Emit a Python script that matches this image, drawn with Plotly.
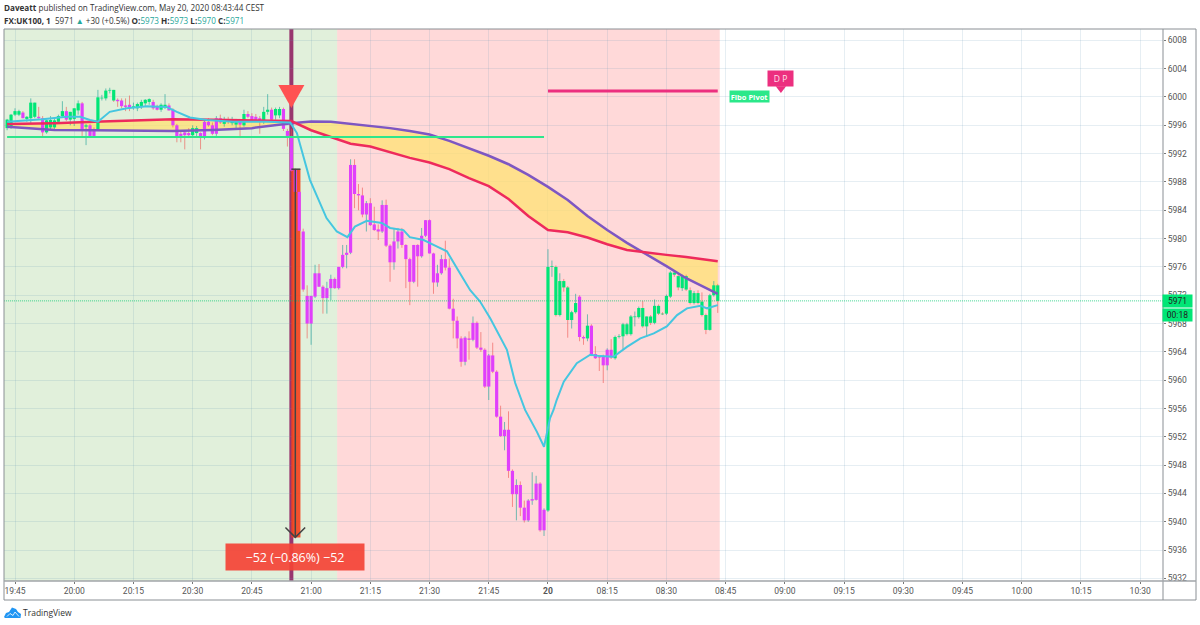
import plotly.graph_objects as go

GREEN = '#00E676'
MAGENTA = '#E040FB'
RED_MA = '#EE2A5C'
PURPLE_MA = '#7E57C2'
CYAN_MA = '#45C6E0'
PINK = '#EC2F7F'
GRID = 'rgba(100,150,180,0.16)'

# one minute bars, index 0 is 19:45, index 135 is the 08:00 open of the 20th
bar_x = list(range(-2, 179))
bar_kind = list(
    "GGGGMGGGMM" "GGGGGMGGGM" "GMMGGGGGMM" "MMGGGGGMMG" "GMMMMMMGGM"
    "MMMMMGMGGM" "GMMMMGGMGG" "MMMMM"
    + "M" * 62
    + "GGGGGGGG" "MM" "G" "MMMMMM"
    + "G" * 27
)

open_ = [
    5995.6, 5995.7, 5997.5, 5997.5, 5997.8, 5996.9, 5997.0, 5997.2, 5997.2, 5997.0,
    5995.0, 5995.7, 5995.7, 5996.5, 5997.3, 5998.0, 5996.8, 5996.9, 5998.1, 5999.1,
    5995.8, 5996.0, 5995.4, 5995.4, 5999.8, 5999.8, 6000.9, 6001.0, 5999.6, 5999.5,
    5998.8, 5998.9, 5998.6, 5998.4, 5998.7, 5999.1, 5999.3, 5999.3, 5998.7, 5998.2,
    5998.7, 5998.8, 5998.2, 5996.0, 5994.8, 5995.0, 5994.9, 5994.6, 5994.9, 5994.9,
    5994.2, 5996.5, 5996.0, 5994.8, 5997.0, 5996.2, 5996.7, 5996.3, 5996.1, 5996.5,
    5996.0, 5997.6, 5997.3, 5997.2, 5997.0, 5996.5, 5997.9, 5998.2, 5997.4, 5997.4,
    5998.3, 5995.2, 5994.5, 5989.7, 5986.6, 5981.0, 5971.9, 5968.0, 5971.8, 5975.1,
    5973.2, 5971.6, 5973.0, 5974.3, 5973.0, 5976.0, 5977.7, 5978.0, 5990.4, 5986.3,
    5986.1, 5983.4, 5985.0, 5982.0, 5981.3, 5981.0, 5984.75, 5979.0, 5976.65, 5979.6,
    5981.0, 5979.1, 5977.1, 5973.9, 5979.1, 5977.5, 5980.4, 5982.6, 5977.9, 5973.8,
    5975.1, 5977.1, 5975.9, 5970.1, 5968.4, 5965.9, 5962.6, 5965.9, 5965.7, 5968.1,
    5964.6, 5964.3, 5959.1, 5963.5, 5961.2, 5954.85, 5952.1, 5953.0, 5947.2, 5943.9,
    5945.2, 5942.0, 5940.2, 5943.0, 5943.1, 5945.4, 5938.8, 5941.6, 5976.0, 5976.0,
    5969.2, 5974.0, 5973.1, 5968.5, 5969.6, 5971.8, 5966.1, 5965.9, 5967.7, 5963.7,
    5963.3, 5963.4, 5962.1, 5964.3, 5963.1, 5966.1, 5966.2, 5966.5, 5966.5, 5968.9,
    5968.9, 5970.2, 5967.6, 5969.0, 5968.1, 5970.5, 5969.4, 5969.4, 5971.8, 5975.2,
    5974.7, 5973.0, 5974.7, 5972.7, 5970.9, 5972.3, 5971.1, 5969.2, 5967.1, 5972.0,
    5973.4,
]
high = [
    5996.9, 5997.6, 5998.4, 5998.2, 5998.0, 5997.3, 5999.8, 5999.2, 5998.6, 5997.3,
    5996.8, 5997.3, 5996.9, 5997.5, 5999.4, 5998.6, 5997.9, 5998.4, 5999.5, 5999.3,
    5996.2, 5996.2, 5995.7, 6001.0, 6000.3, 6001.2, 6001.3, 6001.0, 5999.8, 5999.8,
    5999.8, 6000.2, 5999.2, 5999.2, 5999.6, 5999.7, 5999.8, 5999.6, 5998.9, 5999.1,
    6000.4, 5999.1, 5998.4, 5996.2, 5995.1, 5995.3, 5995.6, 5996.0, 5995.9, 5995.0,
    5996.7, 5997.0, 5996.4, 5997.3, 5997.5, 5997.2, 5997.2, 5997.2, 5996.9, 5996.9,
    5998.2, 5998.0, 5997.7, 5997.6, 5997.3, 5998.6, 6000.4, 5998.5, 5998.5, 5998.6,
    5998.5, 5995.5, 5995.5, 5989.9, 5986.8, 5981.4, 5973.4, 5971.9, 5976.3, 5976.4,
    5973.4, 5973.9, 5974.9, 5974.5, 5976.0, 5979.1, 5979.1, 5991.2, 5991.2, 5987.7,
    5987.2, 5985.3, 5985.7, 5984.5, 5982.0, 5985.4, 5985.5, 5979.2, 5981.5, 5981.5,
    5981.5, 5979.2, 5977.3, 5979.1, 5979.2, 5981.5, 5982.6, 5982.7, 5978.0, 5976.3,
    5977.7, 5979.7, 5977.2, 5971.5, 5969.0, 5966.2, 5966.2, 5966.9, 5969.0, 5968.3,
    5966.8, 5964.5, 5963.7, 5965.3, 5961.4, 5956.4, 5954.1, 5955.6, 5947.4, 5946.0,
    5945.7, 5943.0, 5943.2, 5947.0, 5946.5, 5945.6, 5941.9, 5978.5, 5976.9, 5976.2,
    5975.1, 5974.3, 5973.3, 5969.8, 5972.2, 5972.0, 5966.3, 5969.3, 5967.9, 5964.8,
    5963.5, 5963.6, 5964.5, 5965.8, 5966.3, 5966.5, 5968.1, 5968.1, 5969.2, 5969.7,
    5970.4, 5971.2, 5969.0, 5969.2, 5971.4, 5970.7, 5969.6, 5972.1, 5975.4, 5975.4,
    5975.0, 5974.9, 5974.9, 5973.1, 5972.6, 5972.7, 5972.4, 5969.4, 5972.2, 5974.0,
    5973.6,
]
low = [
    5995.3, 5995.5, 5997.3, 5997.3, 5997.0, 5996.5, 5996.2, 5997.0, 5996.9, 5994.4,
    5994.8, 5995.4, 5995.5, 5996.3, 5997.1, 5996.6, 5996.0, 5995.9, 5997.5, 5994.5,
    5993.2, 5994.4, 5994.4, 5995.2, 5999.5, 5999.5, 6000.5, 5999.3, 5998.6, 5998.4,
    5998.0, 5998.0, 5998.2, 5998.0, 5998.3, 5998.6, 5998.9, 5998.2, 5998.1, 5997.9,
    5998.3, 5998.1, 5995.7, 5993.6, 5993.6, 5992.6, 5994.2, 5994.4, 5994.4, 5992.6,
    5994.0, 5995.8, 5994.6, 5994.5, 5996.2, 5995.8, 5996.2, 5996.0, 5995.6, 5994.2,
    5995.8, 5997.0, 5996.6, 5996.5, 5994.8, 5996.2, 5997.5, 5996.6, 5996.8, 5997.0,
    5995.2, 5993.0, 5989.4, 5986.5, 5981.0, 5972.5, 5965.9, 5965.0, 5971.6, 5973.2,
    5969.4, 5969.4, 5971.3, 5972.9, 5972.8, 5975.8, 5975.8, 5977.8, 5984.3, 5984.0,
    5983.0, 5981.0, 5981.8, 5981.1, 5979.8, 5980.8, 5978.8, 5973.9, 5975.6, 5978.6,
    5978.7, 5973.0, 5970.6, 5973.7, 5973.2, 5977.3, 5980.2, 5977.9, 5972.2, 5973.2,
    5974.9, 5975.5, 5970.0, 5965.9, 5964.5, 5961.9, 5962.1, 5962.9, 5965.5, 5964.4,
    5964.0, 5958.9, 5957.2, 5961.0, 5954.7, 5952.0, 5950.1, 5946.2, 5942.1, 5940.2,
    5940.8, 5939.9, 5940.0, 5942.4, 5943.0, 5938.6, 5938.0, 5941.4, 5974.6, 5969.0,
    5969.0, 5972.5, 5966.0, 5967.3, 5969.4, 5965.5, 5965.0, 5965.5, 5963.4, 5963.0,
    5961.3, 5959.6, 5961.4, 5963.0, 5962.9, 5965.9, 5964.3, 5966.3, 5966.3, 5967.6,
    5968.7, 5967.4, 5966.1, 5967.8, 5967.9, 5969.2, 5969.2, 5969.2, 5971.6, 5974.6,
    5972.7, 5972.6, 5972.6, 5970.7, 5970.7, 5970.7, 5969.0, 5966.5, 5967.0, 5971.8,
    5969.5,
]
close = [
    5996.8, 5997.5, 5998.0, 5998.0, 5997.0, 5997.2, 5999.2, 5999.2, 5997.0, 5995.0,
    5996.7, 5996.75, 5996.7, 5997.3, 5998.0, 5996.8, 5997.9, 5998.4, 5999.1, 5995.4,
    5996.0, 5994.5, 5994.5, 5999.95, 5999.9, 6000.9, 6001.0, 5999.5, 5999.4, 5998.7,
    5998.6, 5998.5, 5998.7, 5999.0, 5999.3, 5999.6, 5999.7, 5998.4, 5998.2, 5998.9,
    5998.9, 5998.1, 5996.0, 5994.4, 5994.5, 5994.6, 5994.6, 5995.6, 5995.6, 5994.2,
    5996.5, 5996.0, 5994.8, 5997.0, 5996.4, 5996.8, 5996.5, 5996.8, 5996.5, 5996.1,
    5997.6, 5997.2, 5996.8, 5996.8, 5996.5, 5997.9, 5998.2, 5996.8, 5998.3, 5998.3,
    5995.5, 5994.5, 5989.6, 5986.6, 5981.1, 5972.8, 5968.0, 5971.9, 5975.1, 5973.2,
    5971.6, 5973.0, 5974.3, 5973.0, 5976.0, 5977.7, 5978.0, 5990.4, 5986.3, 5986.1,
    5983.4, 5985.0, 5981.9, 5981.2, 5981.0, 5984.75, 5979.0, 5976.65, 5979.6, 5981.0,
    5979.1, 5977.1, 5973.9, 5979.1, 5977.5, 5980.4, 5982.6, 5977.9, 5973.8, 5975.1,
    5977.1, 5975.9, 5970.1, 5968.4, 5965.9, 5962.6, 5966.0, 5965.7, 5968.1, 5964.6,
    5964.3, 5959.1, 5963.5, 5961.2, 5954.85, 5952.1, 5953.0, 5947.2, 5943.9, 5945.2,
    5942.0, 5940.2, 5943.0, 5943.2, 5945.4, 5938.8, 5941.7, 5976.0, 5976.1, 5969.2,
    5974.0, 5973.1, 5968.5, 5969.6, 5970.9, 5966.1, 5965.9, 5967.7, 5963.6, 5963.1,
    5963.2, 5962.1, 5964.3, 5963.2, 5966.1, 5966.2, 5967.9, 5967.9, 5969.0, 5969.0,
    5970.2, 5967.6, 5969.0, 5968.1, 5970.5, 5969.4, 5969.3, 5971.9, 5975.2, 5974.9,
    5973.1, 5974.7, 5972.8, 5970.9, 5972.3, 5970.9, 5969.2, 5967.1, 5972.0, 5973.4,
    5971.2,
]

# slow averages that bound the yellow cloud
ma_x = [-2, 5, 10, 20, 30, 40, 50, 60, 70, 75, 80, 85, 90, 95, 100, 105, 110, 115, 120,
        125, 130, 135, 140, 145, 150, 155, 160, 165, 170, 175, 178]
red_ma = [5996.2, 5996.2, 5996.3, 5996.5, 5996.7, 5996.85, 5996.8, 5996.7, 5996.6, 5995.3,
          5994.35, 5993.4, 5993.0, 5992.2, 5991.4, 5990.75, 5989.8, 5988.55, 5987.4,
          5985.6, 5983.2, 5981.2, 5980.9, 5980.15, 5979.2, 5978.4, 5978.0, 5977.7,
          5977.4, 5977.05, 5976.8]
purple_ma = [5995.8, 5995.5, 5995.34, 5995.3, 5995.2, 5995.2, 5995.35, 5995.6, 5996.3,
             5996.55, 5996.5, 5996.2, 5995.95, 5995.6, 5995.2, 5994.7, 5993.8, 5992.8,
             5991.7, 5990.5, 5989.0, 5987.3, 5985.45, 5983.2, 5981.2, 5979.4, 5977.8,
             5976.1, 5974.4, 5973.0, 5972.2]

cyan_x = [-2, 7, 13, 16.5, 19, 21, 24, 28.3, 33.4, 38.4, 41, 44.3, 48.6, 55.3, 63.8, 69.7,
          71.4, 74.7, 78.9, 81.5, 84.2, 86.1, 89.1, 92.9, 95, 98.4, 100, 103.5, 106.8,
          109.4, 112.7, 115.3, 117.8, 120.4, 124.6, 126.7, 129.2, 132.2, 134, 135.5,
          136.4, 137.2, 139, 142.3, 145.7, 148.2, 151.6, 155, 158.4, 161.8, 165.1, 167.7,
          170.2, 173.6, 175.3, 178]
cyan_ma = [5996.5, 5996.85, 5997.2, 5997.2, 5996.75, 5996.5, 5997.9, 5998.4, 5998.7, 5998.6,
           5997.9, 5997.1, 5996.75, 5996.5, 5996.5, 5996.4, 5994.9, 5988.3, 5982.9, 5981.0,
           5980.2, 5981.7, 5982.5, 5982.2, 5981.5, 5981.2, 5980.2, 5979.8, 5978.9, 5978.2,
           5975.1, 5972.7, 5971.1, 5968.7, 5964.3, 5959.6, 5955.8, 5952.7, 5950.6, 5954.6,
           5955.8, 5957.2, 5959.8, 5962.4, 5963.6, 5963.4, 5963.3, 5964.7, 5965.9, 5966.6,
           5967.6, 5969.2, 5970.15, 5970.5, 5970.15, 5970.6]

pivot_green_x = [-2, 134]
pivot_green_y = [5994.35, 5994.35]
pivot_pink_x = [135, 178]
pivot_pink_y = [6000.85, 6000.85]
last_price = 5971.2
signal_bar = 70
range_top = 5989.8
range_bottom = 5937.8

y_ticks = list(range(5932, 6012, 4))
x_ticks = list(range(0, 286, 15))
x_labels = ['19:45', '20:00', '20:15', '20:30', '20:45', '21:00', '21:15', '21:30', '21:45',
            '<b>20</b>', '08:15', '08:30', '08:45', '09:00', '09:15', '09:30', '09:45',
            '10:00', '10:15', '10:30']


def segments(xs, lo, hi, keep):
    # vertical pieces split by None so that one trace can hold many candle parts
    sx, sy = [], []
    for x, a, b, k in zip(xs, lo, hi, keep):
        if k:
            sx += [x, x, None]
            sy += [a, b, None]
    return sx, sy


# plot area in page pixels, for the furniture that lives outside of the data
L, R, T, B = 4, 1163, 29, 581
def px(p):
    return (p - L) / (R - L)
def py(p):
    return (B - p) / (B - T)


fig = go.Figure()

# cloud
fig.add_trace(go.Scatter(x=ma_x, y=purple_ma, mode='lines', line=dict(width=0)))
fig.add_trace(go.Scatter(x=ma_x, y=red_ma, mode='lines', line=dict(width=0),
                         fill='tonexty', fillcolor='rgba(255,226,115,0.75)'))

# candles
is_up = [c >= o for o, c in zip(open_, close)]
is_green = [k == 'G' for k in bar_kind]
wx, wy = segments(bar_x, low, high, is_up)
fig.add_trace(go.Scatter(x=wx, y=wy, mode='lines', line=dict(color='rgba(38,166,154,0.65)', width=1)))
wx, wy = segments(bar_x, low, high, [not u for u in is_up])
fig.add_trace(go.Scatter(x=wx, y=wy, mode='lines', line=dict(color='rgba(239,83,80,0.6)', width=1)))
bx, by = segments(bar_x, open_, close, [not g for g in is_green])
fig.add_trace(go.Scatter(x=bx, y=by, mode='lines', line=dict(color=MAGENTA, width=3.2)))
bx, by = segments(bar_x, open_, close, is_green)
fig.add_trace(go.Scatter(x=bx, y=by, mode='lines', line=dict(color=GREEN, width=3.2)))

# averages and pivots
fig.add_trace(go.Scatter(x=ma_x, y=purple_ma, mode='lines', line=dict(color=PURPLE_MA, width=2.5)))
fig.add_trace(go.Scatter(x=ma_x, y=red_ma, mode='lines', line=dict(color=RED_MA, width=2.5)))
fig.add_trace(go.Scatter(x=cyan_x, y=cyan_ma, mode='lines', line=dict(color=CYAN_MA, width=2)))
fig.add_trace(go.Scatter(x=pivot_green_x, y=pivot_green_y, mode='lines', line=dict(color='#2EE68C', width=2)))
fig.add_trace(go.Scatter(x=pivot_pink_x, y=pivot_pink_y, mode='lines', line=dict(color=PINK, width=3)))
fig.add_trace(go.Scatter(x=[-2.8, 290.8], y=[last_price, last_price], mode='lines',
                         line=dict(color='rgba(0,200,110,0.75)', width=1, dash='1px,1px')))

# price range tool
fig.add_trace(go.Scatter(x=[71, 71, None, 68.5, 71, 73.5, None, 70, 72.3],
                         y=[range_top, range_bottom, None, range_bottom + 1.4, range_bottom,
                            range_bottom + 1.4, None, range_top, range_top],
                         mode='lines', line=dict(color='#444444', width=1.5)))

# tail of the D P flag
fig.add_trace(go.Scatter(x=[194], y=[6001.2], mode='markers',
                         marker=dict(symbol='triangle-down', size=9, color=PINK)))

shapes = [
    dict(type='rect', layer='between', x0=-2.8, x1=81.6, yref='paper', y0=0, y1=1,
         fillcolor='rgba(70,160,30,0.16)', line_width=0),
    dict(type='rect', layer='between', x0=81.6, x1=178.5, yref='paper', y0=0, y1=1,
         fillcolor='rgba(255,82,82,0.22)', line_width=0),
    dict(type='line', layer='between', x0=signal_bar, x1=signal_bar, yref='paper', y0=0, y1=1,
         line=dict(color='#98366E', width=4)),
    dict(type='rect', layer='between', x0=70, x1=72.3, y0=range_bottom, y1=range_top,
         fillcolor='rgba(244,67,30,0.92)', line_width=0),
    # entry arrow
    dict(type='path', layer='above', xsizemode='pixel', ysizemode='pixel', xanchor=signal_bar,
         yanchor=5998.45, path='M -13 23 L 13 23 L 0 0 Z', fillcolor='#FF5252', line_width=0),
    # frame around chart and price scale
    dict(type='rect', xref='paper', yref='paper', x0=px(4), x1=px(1196), y0=py(600), y1=py(29),
         line=dict(color='#8A8F94', width=1)),
    dict(type='line', xref='paper', yref='paper', x0=px(1163), x1=px(1163), y0=py(600), y1=py(29),
         line=dict(color='#8A8F94', width=1)),
    dict(type='line', xref='paper', yref='paper', x0=px(4), x1=px(1196), y0=py(581), y1=py(581),
         line=dict(color='#A0A4A8', width=1.5)),
    # TradingView logo, pixels from the plot's lower left corner
    dict(type='path', xref='paper', yref='paper', xsizemode='pixel', ysizemode='pixel',
         xanchor=0, yanchor=0, fillcolor='#2196F3', line_width=0,
         path='M 0 -36 L 2 -32 L 5 -31 L 8 -26.5 L 12 -28 L 14 -31 L 17 -33 L 16.5 -37 L 1 -37 Z'),
    dict(type='path', xref='paper', yref='paper', xsizemode='pixel', ysizemode='pixel',
         xanchor=0, yanchor=0, line=dict(color='white', width=0.8),
         path='M 3 -35.5 L 6 -32.5 L 9 -34.5 L 11 -31 L 15 -35.5'),
]

header1 = ('<b>Daveatt</b> published on TradingView.com, May 20, 2020 08:43:44 CEST')
teal = '#26A69A'
header2 = ('<b>FX:UK100, 1</b>  5971 <span style="color:%s">▲</span> +30 (+0.5%%) '
           '<b>O:</b><span style="color:%s">5973</span> <b>H:</b><span style="color:%s">5973</span> '
           '<b>L:</b><span style="color:%s">5970</span> <b>C:</b><span style="color:%s">5971</span>'
           % (teal, teal, teal, teal, teal))

annotations = [
    dict(xref='paper', yref='paper', x=px(2), y=py(8), text=header1, xanchor='left', yanchor='middle',
         showarrow=False, font=dict(family='Open Sans', size=8.15, color='#333333')),
    dict(xref='paper', yref='paper', x=px(2), y=py(20), text=header2, xanchor='left', yanchor='middle',
         showarrow=False, font=dict(family='Open Sans', size=8.15, color='#333333')),
    dict(xref='paper', yref='paper', x=px(21), y=py(612), text='TradingView', xanchor='left', yanchor='middle',
         showarrow=False, font=dict(family='Open Sans', size=8.5, color='#333333')),
    dict(x=71, y=5935.0, text='−52 (−0.86%) −52', showarrow=False, width=138, height=26,
         bgcolor='rgba(244,67,54,0.92)', borderpad=0, font=dict(family='Open Sans', size=12.5, color='white')),
    dict(x=186, y=6000, text='<b>Fibo Pivot</b>', showarrow=False, width=39, height=11,
         bgcolor='#2BE88A', borderpad=0, font=dict(family='Open Sans', size=7.5, color='white')),
    dict(x=194, y=6002.6, text='D P', showarrow=False, width=25, height=15,
         bgcolor=PINK, borderpad=0, font=dict(family='Open Sans', size=8.5, color='#FFE0EC')),
    dict(xref='paper', x=px(1177.5), y=last_price, xanchor='center', text='5971', showarrow=False,
         width=29, height=11.5, bgcolor=GREEN, borderpad=0, font=dict(family='Roboto', size=8.5, color='#222222')),
    dict(xref='paper', x=px(1177.5), y=5969.2, xanchor='center', text='00:18', showarrow=False,
         width=29, height=11.5, bgcolor=GREEN, borderpad=0, font=dict(family='Roboto', size=8.5, color='#222222')),
]

fig.update_layout(
    width=1200, height=625, autosize=False, showlegend=False,
    margin=dict(l=L, r=1200 - R, t=T, b=625 - B),
    paper_bgcolor='white', plot_bgcolor='white',
    shapes=shapes, annotations=annotations,
    font=dict(family='Roboto', size=8.5, color='#555555'),
)
fig.update_xaxes(range=[-2.786, 290.78], tickmode='array', tickvals=x_ticks, ticktext=x_labels,
                 showgrid=True, gridcolor=GRID, gridwidth=1, zeroline=False,
                 ticks='outside', ticklen=2, tickcolor='#777777', showline=False)
fig.update_yaxes(range=[5931.64, 6009.6], side='right', tickmode='array', tickvals=y_ticks,
                 ticktext=[str(v) for v in y_ticks], showgrid=True, gridcolor=GRID, gridwidth=1,
                 zeroline=False, ticks='outside', ticklen=2, tickcolor='#777777', showline=False)

fig.write_html("out.html", config={'displayModeBar': False},
               post_script="document.body.style.margin='0';")
